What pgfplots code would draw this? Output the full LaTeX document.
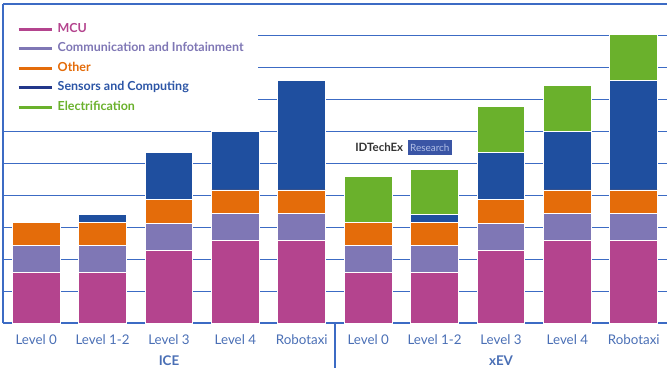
\documentclass[border=0pt]{standalone}
\usepackage{pgfplots}
\pgfplotsset{compat=1.18}
\usepackage{pgfplotstable}
\usepackage{fontspec}
\setmainfont{Lato}
\definecolor{cMCU}{HTML}{B4448E}
\definecolor{cComm}{HTML}{7F77B5}
\definecolor{cOther}{HTML}{E46C0A}
\definecolor{cSens}{HTML}{1F4F9F}
\definecolor{cSensLeg}{HTML}{22378A}
\definecolor{cSensTxt}{HTML}{2C55A6}
\definecolor{cElec}{HTML}{6AB12C}
\definecolor{gridblue}{HTML}{3C6BC4}
\definecolor{ticklab}{HTML}{4A6FB5}
\definecolor{logoblue}{HTML}{3A55A5}
\definecolor{logotxt}{HTML}{B0BEE6}
\pgfplotstableread{
x mcu comm other sens elec
0 1.59 0.83 0.74 0 0
1 1.59 0.83 0.74 0.23 0
2 2.28 0.83 0.75 1.50 0
3 2.59 0.84 0.74 1.84 0
4 2.59 0.84 0.74 3.43 0
5 1.59 0.83 0.74 0 1.43
6 1.59 0.83 0.74 0.23 1.43
7 2.28 0.83 0.75 1.50 1.43
8 2.59 0.84 0.74 1.84 1.43
9 2.59 0.84 0.74 3.43 1.44
}\data
\begin{document}
\begin{tikzpicture}
\useasboundingbox (-3bp,-45bp) rectangle (666bp,323bp);
\begin{axis}[
  scale only axis, width=664bp, height=319bp,
  ybar stacked, bar width=0.72,
  xmin=-0.5, xmax=9.5, ymin=0, ymax=10,
  ytick={0,...,10}, yticklabels={},
  ymajorgrids, grid style={color=gridblue, line width=1.1bp},
  axis x line*=bottom, axis y line*=left,
  axis line style={gridblue, line width=1.1bp},
  major tick length=0pt,
  xtick={0,...,9},
  xticklabels={Level 0,Level 1-2,Level 3,Level 4,Robotaxi,Level 0,Level 1-2,Level 3,Level 4,Robotaxi},
  xticklabel style={font=\fontsize{13.4}{15}\selectfont, color=ticklab, yshift=-8bp},
  clip=false,
  legend cell align=left,
  legend style={at={(rel axis cs:0,1)}, xshift=1.2bp, yshift=-1.2bp, anchor=north west, draw=none, fill=white,
    inner xsep=12.8bp, inner ysep=16.8bp, row sep=5.6bp,
    font=\fontsize{12.5}{14}\selectfont\bfseries,
    nodes={inner sep=1.5bp, text height=8.5bp, text depth=2.5bp},
    /tikz/every odd column/.append style={column sep=3bp}},
]
\addplot[forget plot, fill=cMCU, draw=white, line width=0.9bp] table[x=x,y=mcu]{\data};
\addplot[forget plot, fill=cComm, draw=white, line width=0.9bp] table[x=x,y=comm]{\data};
\addplot[forget plot, fill=cOther, draw=white, line width=0.9bp] table[x=x,y=other]{\data};
\addplot[forget plot, fill=cSens, draw=white, line width=0.9bp] table[x=x,y=sens]{\data};
\addplot[forget plot, fill=cElec, draw=white, line width=0.9bp] table[x=x,y=elec]{\data};
\addlegendimage{legend image code/.code={\draw[cMCU, line width=3bp] (0bp,0bp) -- (33bp,0bp);}}
\addlegendentry{\textcolor{cMCU}{MCU}}
\addlegendimage{legend image code/.code={\draw[cComm, line width=3bp] (0bp,0bp) -- (33bp,0bp);}}
\addlegendentry{\textcolor{cComm}{Communication and Infotainment}}
\addlegendimage{legend image code/.code={\draw[cOther, line width=3bp] (0bp,0bp) -- (33bp,0bp);}}
\addlegendentry{\textcolor{cOther}{Other}}
\addlegendimage{legend image code/.code={\draw[cSensLeg, line width=3bp] (0bp,0bp) -- (33bp,0bp);}}
\addlegendentry{\textcolor{cSensTxt}{Sensors and Computing}}
\addlegendimage{legend image code/.code={\draw[cElec, line width=3bp] (0bp,0bp) -- (33bp,0bp);}}
\addlegendentry{\textcolor{cElec}{Electrification}}
\draw[gridblue, line width=1.1bp] (axis cs:4.5,0) -- ([yshift=-45bp]axis cs:4.5,0);
\node[font=\fontsize{13.4}{15}\selectfont\bfseries, color=ticklab] at ([yshift=-38bp]axis cs:2,0) {ICE};
\node[font=\fontsize{13.4}{15}\selectfont\bfseries, color=ticklab] at ([yshift=-38bp]axis cs:7,0) {xEV};
\node[anchor=east, font=\fontsize{11.5}{13}\selectfont\bfseries, text=black!80, inner sep=1bp] at ([xshift=-1bp]axis cs:5.56,5.5) {IDTechEx};
\node[anchor=west, fill=logoblue, font=\fontsize{10}{12}\selectfont, text=logotxt, inner xsep=2.5bp, inner ysep=3.5bp] at ([xshift=2bp]axis cs:5.56,5.5) {Research};
\end{axis}
\end{tikzpicture}
\end{document}
